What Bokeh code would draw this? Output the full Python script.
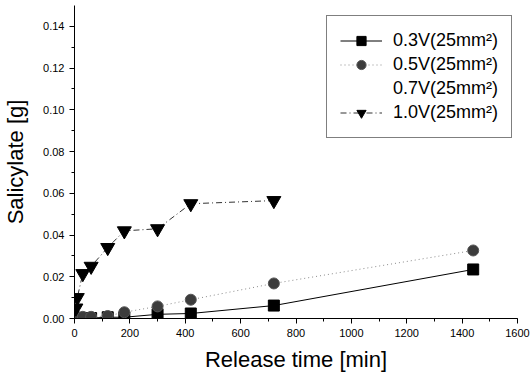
from bokeh.plotting import figure
from bokeh.models import Range1d, SingleIntervalTicker, NumeralTickFormatter, Legend, LegendItem
from bokeh.embed import file_html
from bokeh.resources import INLINE

# Data
t_03 = [0, 10, 30, 60, 120, 180, 300, 420, 720, 1440]
v_03 = [0.0, 0.0, 0.0, 0.0002, 0.0006, 0.0006, 0.0020, 0.0024, 0.0062, 0.0235]
t_05 = [5, 10, 30, 60, 120, 180, 300, 420, 720, 1440]
v_05 = [0.0010, 0.0008, 0.0008, 0.0008, 0.0012, 0.0030, 0.0058, 0.0090, 0.0168, 0.0326]
t_07 = []
v_07 = []
t_10 = [5, 10, 30, 60, 120, 180, 300, 420, 720]
v_10 = [0.0050, 0.0100, 0.0215, 0.0250, 0.0340, 0.0420, 0.0430, 0.0550, 0.0565]
labels = ["0.3V(25mm\u00b2)", "0.5V(25mm\u00b2)", "0.7V(25mm\u00b2)", "1.0V(25mm\u00b2)"]

FONT = "Liberation Sans"

p = figure(width=532, height=377, output_backend="svg", toolbar_location=None,
           x_range=Range1d(0, 1600), y_range=Range1d(0, 0.15),
           min_border_left=73, min_border_right=15, min_border_top=5, min_border_bottom=59)
p.outline_line_color = None
p.grid.visible = False
p.background_fill_color = "white"
p.border_fill_color = "white"

p.xaxis.ticker = SingleIntervalTicker(interval=200, num_minor_ticks=2)
p.yaxis.ticker = SingleIntervalTicker(interval=0.02, num_minor_ticks=2)
p.yaxis.formatter = NumeralTickFormatter(format="0.00")
p.xaxis.axis_label = "Release time [min]"
p.yaxis.axis_label = "Salicylate [g]"
for ax in (p.xaxis, p.yaxis):
    ax.axis_label_text_font = FONT
    ax.axis_label_text_font_size = "22px"
    ax.axis_label_text_font_style = "normal"
    ax.axis_label_text_color = "black"
    ax.major_label_text_font = FONT
    ax.major_label_text_font_size = "11px"
    ax.major_label_text_color = "black"
    ax.axis_line_color = "black"
    ax.major_tick_line_color = "black"
    ax.minor_tick_line_color = "black"
    ax.major_tick_out = 5
    ax.major_tick_in = 0
    ax.minor_tick_out = 3
    ax.minor_tick_in = 0
    ax.major_label_standoff = 5
p.xaxis.axis_label_standoff = 7
p.yaxis.axis_label_standoff = 12

# 0.3V
l1 = p.line(t_03, v_03, line_color="black", line_width=1)
s1 = p.scatter(t_03, v_03, marker="square", size=11, fill_color="black", line_color="black")
# 0.5V
l2 = p.line(t_05, v_05, line_color="#8a8a8a", line_width=1, line_dash="1 3")
s2 = p.scatter(t_05, v_05, marker="circle", size=11, fill_color="#3c3c3c", line_color="#555555")
# 0.7V (no visible marks)
s3 = p.scatter(t_07, v_07, marker="circle", size=10, fill_alpha=0, line_alpha=0)
# 1.0V
l4 = p.line(t_10, v_10, line_color="#333333", line_width=1, line_dash="6 3 1 3")
s4 = p.scatter(t_10, v_10, marker="inverted_triangle", size=14, fill_color="black", line_color="black")

legend = Legend(items=[
    LegendItem(label=labels[0], renderers=[l1, s1]),
    LegendItem(label=labels[1], renderers=[l2, s2]),
    LegendItem(label=labels[2], renderers=[s3]),
    LegendItem(label=labels[3], renderers=[l4, s4]),
], location=(252, 180))
legend.label_text_font = FONT
legend.label_text_font_size = "18px"
legend.label_text_color = "black"
legend.border_line_color = "black"
legend.border_line_width = 1
legend.background_fill_color = "white"
legend.background_fill_alpha = 1
legend.glyph_width = 42
legend.glyph_height = 23
legend.label_height = 23
legend.label_standoff = 11
legend.spacing = 1
legend.padding = 13
legend.margin = 0
p.add_layout(legend, "center")

open("out.html", "w").write(file_html(p, INLINE))
